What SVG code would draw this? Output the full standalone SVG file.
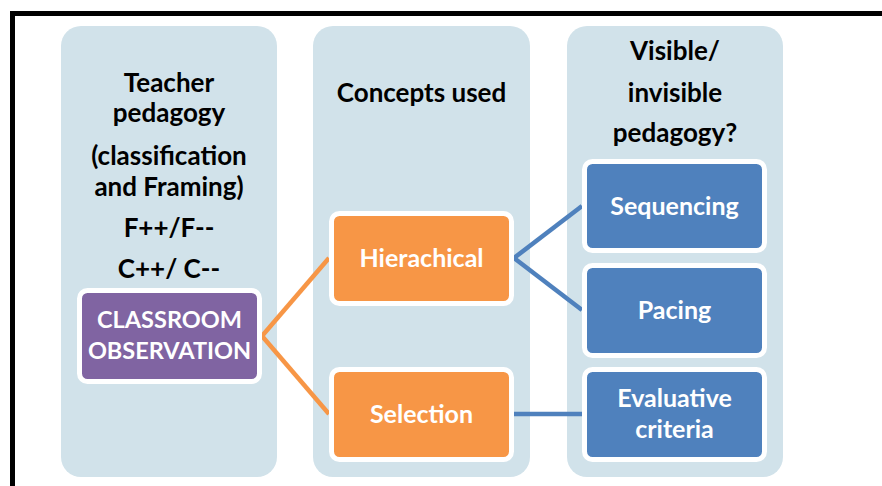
<svg xmlns="http://www.w3.org/2000/svg" width="882" height="486" viewBox="0 0 882 486">
  <style>
    .col { fill: #D1E2EA; }
    .box { stroke: #FFFFFF; stroke-width: 5; }
    .purple { fill: #8064A2; }
    .orange { fill: #F79646; }
    .blue { fill: #4F81BD; }
    .hdr { font-family: Lato, "Liberation Sans", sans-serif; font-weight: bold; font-size: 26px; fill: #000000; text-anchor: middle; }
    .lbl { font-family: Lato, "Liberation Sans", sans-serif; font-weight: bold; font-size: 25px; fill: #FFFFFF; text-anchor: middle; }
    .caps { font-size: 23.5px; }
    .c-orange { stroke: #F79646; stroke-width: 4.5; fill: none; }
    .c-blue { stroke: #4F81BD; stroke-width: 4.5; fill: none; }
  </style>

  <rect width="882" height="486" fill="#FFFFFF"/>
  <!-- frame -->
  <path d="M12.5 486 V13.5 H882" fill="none" stroke="#000000" stroke-width="5"/>

  <!-- columns -->
  <g id="col-pedagogy">
    <rect class="col" x="61" y="26" width="216" height="451" rx="20"/>
    <text class="hdr" x="169" y="92">Teacher</text>
    <text class="hdr" x="169" y="122">pedagogy</text>
    <text class="hdr" x="169" y="165">(classification</text>
    <text class="hdr" x="169" y="196">and Framing)</text>
    <text class="hdr" x="169" y="237">F++/F--</text>
    <text class="hdr" x="169" y="278">C++/ C--</text>
  </g>
  <g id="col-concepts">
    <rect class="col" x="313" y="26" width="217" height="451" rx="20"/>
    <text class="hdr" x="421.5" y="102">Concepts used</text>
  </g>
  <g id="col-visible">
    <rect class="col" x="567" y="26" width="216" height="451" rx="20"/>
    <text class="hdr" x="675" y="60">Visible/</text>
    <text class="hdr" x="675" y="102">invisible</text>
    <text class="hdr" x="675" y="142">pedagogy?</text>
  </g>

  <!-- connectors -->
  <g id="connectors">
    <path class="c-orange" d="M262 336 L329 258"/>
    <path class="c-orange" d="M262 336 L329 414"/>
    <path class="c-blue" d="M514 258 L582 206"/>
    <path class="c-blue" d="M514 258 L582 310"/>
    <path class="c-blue" d="M514 414 L582 414"/>
  </g>

  <!-- nodes -->
  <g id="classroom-observation">
    <rect class="box purple" x="79.5" y="290.5" width="180" height="91" rx="8"/>
    <text class="lbl caps" x="169.5" y="328">CLASSROOM</text>
    <text class="lbl caps" x="169.5" y="359">OBSERVATION</text>
  </g>
  <g id="hierachical">
    <rect class="box orange" x="331.5" y="213.5" width="180" height="90" rx="8"/>
    <text class="lbl" x="421.5" y="267">Hierachical</text>
  </g>
  <g id="selection">
    <rect class="box orange" x="331.5" y="369.5" width="180" height="90" rx="8"/>
    <text class="lbl" x="421.5" y="423">Selection</text>
  </g>
  <g id="sequencing">
    <rect class="box blue" x="584.5" y="161.5" width="180" height="89" rx="8"/>
    <text class="lbl" x="674.5" y="215">Sequencing</text>
  </g>
  <g id="pacing">
    <rect class="box blue" x="584.5" y="265.5" width="180" height="90" rx="8"/>
    <text class="lbl" x="674.5" y="319">Pacing</text>
  </g>
  <g id="evaluative-criteria">
    <rect class="box blue" x="584.5" y="369.5" width="180" height="90" rx="8"/>
    <text class="lbl" x="674.5" y="407">Evaluative</text>
    <text class="lbl" x="674.5" y="438">criteria</text>
  </g>
</svg>
